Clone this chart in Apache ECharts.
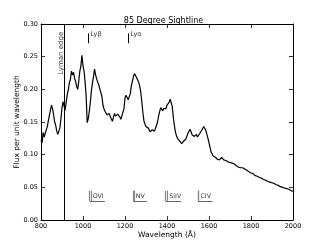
<!DOCTYPE html>
<html><head><meta charset="utf-8">
<script src="https://cdn.jsdelivr.net/npm/echarts@6/dist/echarts.min.js"></script>
<style>html,body{margin:0;padding:0;background:#fff}#c{width:327px;height:245px}</style>
</head><body><div id="c"></div>
<script>
// Wavelength samples (Angstrom)
const wavelengths = [
 800,805,810,815,820,825,830,835,840,845,850,855,860,865,870,875,880,885,890,895,
 900,905,910,915,920,925,930,935,940,945,950,955,960,965,970,975,980,985,990,995,
 1000,1005,1010,1015,1020,1025,1030,1035,1040,1045,1050,1055,1060,1065,1070,1075,1080,1085,1090,1095,
 1100,1105,1110,1115,1120,1125,1130,1135,1140,1145,1150,1155,1160,1165,1170,1175,1180,1185,1190,1195,
 1200,1205,1210,1215,1220,1225,1230,1235,1240,1245,1250,1255,1260,1265,1270,1275,1280,1285,1290,1295,
 1300,1305,1310,1315,1320,1325,1330,1335,1340,1345,1350,1355,1360,1365,1370,1375,1380,1385,1390,1395,
 1400,1405,1410,1415,1420,1425,1430,1435,1440,1445,1450,1455,1460,1465,1470,1475,1480,1485,1490,1495,
 1500,1505,1510,1515,1520,1525,1530,1535,1540,1545,1550,1555,1560,1565,1570,1575,1580,1585,1590,1595,
 1600,1610,1620,1630,1640,1650,1660,1670,1680,1690,1700,1710,1720,1730,1740,1750,1760,1770,1780,1790,
 1800,1810,1820,1830,1840,1850,1860,1870,1880,1890,1900,1910,1920,1930,1940,1950,1960,1970,1980,1990,
 2000
];
// Flux per unit wavelength
const flux = [
 0.122,0.118,0.134,0.127,0.130,0.138,0.143,0.152,0.160,0.168,0.176,0.170,0.161,0.150,0.145,0.136,0.131,0.128,0.141,0.155,
 0.172,0.181,0.178,0.168,0.180,0.192,0.199,0.210,0.215,0.228,0.222,0.226,0.217,0.212,0.204,0.200,0.213,0.228,0.236,0.252,
 0.236,0.228,0.211,0.190,0.149,0.155,0.166,0.180,0.198,0.210,0.219,0.231,0.222,0.216,0.211,0.207,0.204,0.195,0.189,0.176,
 0.170,0.166,0.167,0.161,0.160,0.163,0.158,0.155,0.151,0.157,0.163,0.159,0.156,0.162,0.162,0.158,0.154,0.159,0.165,0.170,
 0.187,0.191,0.189,0.184,0.181,0.193,0.205,0.212,0.219,0.224,0.222,0.218,0.215,0.211,0.205,0.196,0.181,0.165,0.152,0.147,
 0.143,0.144,0.141,0.139,0.135,0.134,0.138,0.135,0.136,0.140,0.145,0.150,0.159,0.166,0.172,0.174,0.167,0.171,0.174,0.170,
 0.176,0.178,0.180,0.185,0.183,0.174,0.157,0.145,0.135,0.129,0.125,0.122,0.121,0.118,0.117,0.120,0.121,0.119,0.124,0.127,
 0.133,0.136,0.139,0.141,0.130,0.133,0.128,0.131,0.131,0.127,0.129,0.132,0.135,0.137,0.140,0.143,0.142,0.137,0.131,0.125,
 0.118,0.104,0.098,0.096,0.093,0.092,0.096,0.092,0.091,0.089,0.088,0.087,0.086,0.083,0.081,0.080,0.080,0.078,0.076,0.074,
 0.072,0.071,0.068,0.067,0.065,0.064,0.062,0.061,0.059,0.058,0.057,0.056,0.054,0.053,0.051,0.050,0.049,0.048,0.047,0.045,
 0.044
];
const xTickValues = [800,1000,1200,1400,1600,1800,2000];
const yTickLabels = ['0.00','0.05','0.10','0.15','0.20','0.25','0.30'];
const lymanEdge = 912;
const lymanLines = [{name:'Ly\u03b2', wave:1026}, {name:'Ly\u03b1', wave:1216}];
const ionLines = [
 {name:'OVI', waves:[1032,1038], end:1104},
 {name:'NV', waves:[1239,1243], end:1304},
 {name:'SiIV', waves:[1394,1403], end:1467},
 {name:'CIV', waves:[1548,1551], end:1617}
];

const FONT = 'DejaVu Sans';
const seg = (x1,y1,x2,y2,color,width) => [
  {coord:[x1,y1], lineStyle:{color:color,width:width,type:'solid'}},
  {coord:[x2,y2]}
];
const markData = [];
markData.push(seg(lymanEdge,0,lymanEdge,0.30,'#000',1));
lymanLines.forEach(l => markData.push(seg(l.wave,0.2855,l.wave,0.2705,'#000',1)));
ionLines.forEach(l => {
  l.waves.forEach(w => markData.push(seg(w,0.0449,w,0.0290,'#888',1.2)));
  markData.push(seg(l.waves[0],0.0290,l.end,0.0290,'#666',1));
});

const plainLabel = {textBorderWidth:0, textBorderColor:'transparent', textShadowBlur:0, color:'#000'};
const labelPts = [];
labelPts.push({value:[898,0.2555], name:'Lyman edge',
  label:Object.assign({rotate:90, align:'center', verticalAlign:'middle', position:'inside', fontSize:7}, plainLabel)});
lymanLines.forEach(l => labelPts.push({value:[l.wave+10,0.2835], name:l.name,
  label:Object.assign({position:'right', distance:0, fontSize:6.5}, plainLabel)}));
ionLines.forEach(l => labelPts.push({value:[l.waves[1]+8,0.0365], name:l.name,
  label:Object.assign({position:'right', distance:0, fontSize:6.3}, plainLabel)}));

const chart = echarts.init(document.getElementById('c'), null, {renderer:'canvas'});
const axisCommon = {
  type:'value', splitLine:{show:false},
  axisLine:{show:true, onZero:false, lineStyle:{color:'#000', width:1}},
  axisTick:{show:true, inside:true, length:4, lineStyle:{color:'#000', width:0.8}}
};
chart.setOption({
  animation:false,
  backgroundColor:'#fff',
  title:{text:'85 Degree Sightline', left:'center', top:12,
    textStyle:{fontFamily:FONT, fontSize:8, fontWeight:'normal', color:'#000'}},
  grid:{left:41, right:34, top:24, bottom:25},
  xAxis:[
    Object.assign({}, axisCommon, {min:800, max:2000, interval:200, position:'bottom',
      name:'Wavelength (\u00c5)', nameLocation:'middle', nameGap:11, nameMoveOverlap:false,
      nameTextStyle:{fontFamily:FONT, fontSize:7.5, color:'#000'},
      axisLabel:{fontFamily:FONT, fontSize:6.5, color:'#000', margin:3,
        formatter:v => xTickValues.indexOf(v) >= 0 ? String(v) : ''}}),
    Object.assign({}, axisCommon, {min:800, max:2000, interval:200, position:'top', axisLabel:{show:false}})
  ],
  yAxis:[
    Object.assign({}, axisCommon, {min:0, max:0.30, interval:0.05, position:'left',
      name:'Flux per unit wavelength', nameLocation:'middle', nameGap:20, nameMoveOverlap:false,
      nameTextStyle:{fontFamily:FONT, fontSize:7.5, color:'#000'},
      axisLabel:{fontFamily:FONT, fontSize:6.5, color:'#000', margin:3,
        formatter:v => yTickLabels[Math.round(v/0.05)]}}),
    Object.assign({}, axisCommon, {min:0, max:0.30, interval:0.05, position:'right', axisLabel:{show:false}})
  ],
  series:[
    {type:'line', xAxisIndex:0, yAxisIndex:0, showSymbol:false, symbol:'none',
      data:wavelengths.map((w,i) => [w, flux[i]]),
      lineStyle:{color:'#000', width:1.2}, z:3,
      markLine:{silent:true, symbol:['none','none'], label:{show:false}, animation:false, data:markData}
    },
    {type:'scatter', xAxisIndex:0, yAxisIndex:0, symbolSize:0, silent:true, z:4,
      data:labelPts,
      label:{show:true, formatter:p => p.name, fontFamily:FONT, color:'#000'}
    }
  ]
});
</script></body></html>
